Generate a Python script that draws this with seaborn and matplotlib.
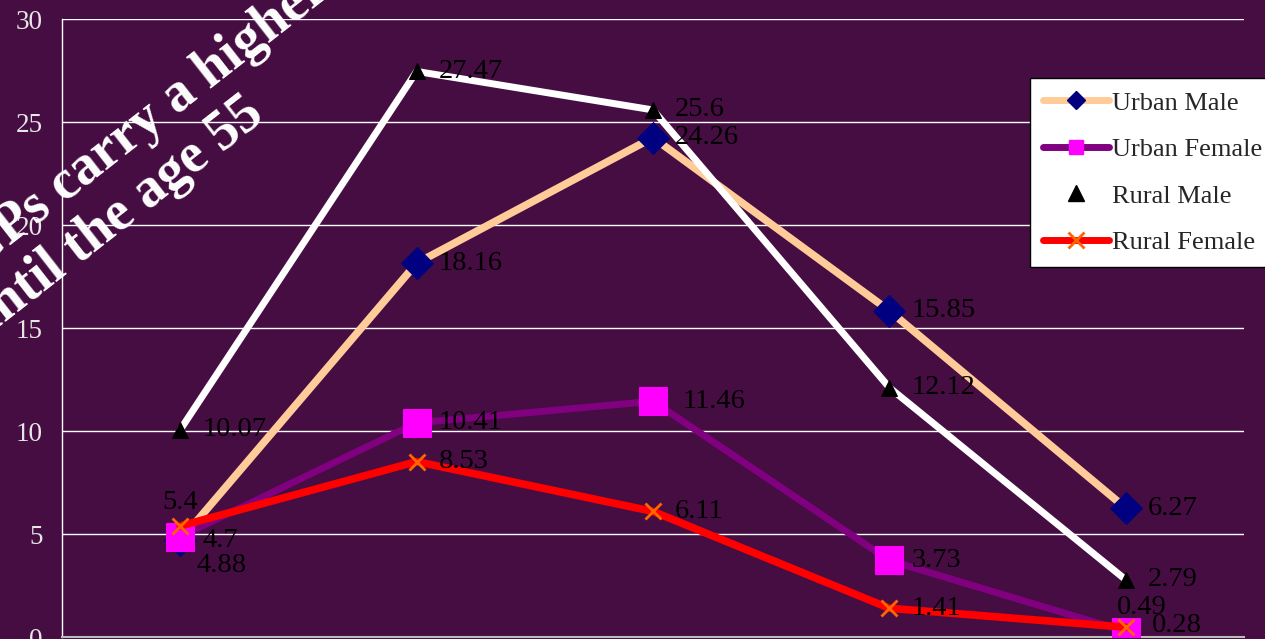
import matplotlib
matplotlib.use("Agg")
import matplotlib.pyplot as plt
from matplotlib.lines import Line2D
import seaborn as sns
import pandas as pd

# ---- data ----
positions = [0, 1, 2, 3, 4]
urban_male = [4.7, 18.16, 24.26, 15.85, 6.27]
urban_female = [4.88, 10.41, 11.46, 3.73, 0.28]
rural_male = [10.07, 27.47, 25.6, 12.12, 2.79]
rural_female = [5.4, 8.53, 6.11, 1.41, 0.49]
series_names = ["Urban Male", "Urban Female", "Rural Male", "Rural Female"]
y_ticks = [0, 5, 10, 15, 20, 25, 30]
title_line1 = "GPs carry a higher"
title_line2 = "until the age 55"

W, H = 1265, 639
BG = "#460d42"
SERIF = "Liberation Serif"

sns.set_style("white")
plt.rcParams["font.family"] = [SERIF, "DejaVu Serif"]

fig = plt.figure(figsize=(W / 100, H / 100), dpi=100, facecolor=BG)
ax = fig.add_axes([62 / W, (H - 637.3) / H, (1244 - 62) / W, (637.3 - 19.3) / H])
ax.set_facecolor(BG)

df = pd.DataFrame({
    "pos": positions * 4,
    "value": urban_male + urban_female + rural_male + rural_female,
    "series": sum([[n] * len(positions) for n in series_names], []),
})

styles = {
    "Urban Male": dict(color="#ffcc99", lw=5.5, marker="D", markersize=16,
                       markerfacecolor="#000080", markeredgecolor="#000080"),
    "Urban Female": dict(color="#800080", lw=5, marker="s", markersize=20,
                         markerfacecolor="#ff00ff", markeredgecolor="#ff00ff"),
    "Rural Male": dict(color="white", lw=5, marker="^", markersize=12,
                       markerfacecolor="black", markeredgecolor="black"),
    "Rural Female": dict(color="#ff0000", lw=5.5, marker="x", markersize=12,
                         markeredgecolor="#ff6600", markeredgewidth=2),
}

for i, name in enumerate(series_names):
    sub = df[df["series"] == name]
    sns.lineplot(data=sub, x="pos", y="value", ax=ax, sort=False,
                 zorder=3 + i, legend=False, **styles[name])

# data labels
default_off = (16, 0)
special = {
    ("Urban Female", 0): ((12, -21), "left"),
    ("Rural Female", 0): ((0, 17), "center"),
    ("Urban Female", 2): ((21.5, 0), "left"),
    ("Rural Female", 4): ((-6.5, 14.5), "left"),
    ("Urban Female", 4): ((19, 4), "left"),
}
for name in series_names:
    sub = df[df["series"] == name]
    for j, (x, v) in enumerate(zip(sub["pos"], sub["value"])):
        off, ha = special.get((name, j), (default_off, "left"))
        ax.annotate(f"{v:g}", (x, v), xytext=off, textcoords="offset points",
                    ha=ha, va="center", fontsize=20.5, color="black",
                    family=SERIF, zorder=10, annotation_clip=False)

ax.set_xlim(-0.5, 4.5)
ax.set_ylim(0, 30)
ax.set_yticks(y_ticks)
ax.set_yticklabels([str(t) for t in y_ticks])
ax.set_xticks([0.5, 1.5, 2.5, 3.5])
ax.set_xticklabels([])
ax.set_xlabel("")
ax.set_ylabel("")
ax.tick_params(axis="y", length=5, width=1, color="white", pad=9,
               labelsize=19.5, labelcolor="#e6e6e6")
ax.tick_params(axis="x", length=5, width=1, color="#bbbbbb", direction="inout")
for t in ax.get_yticklabels():
    t.set_family(SERIF)
ax.grid(axis="y", color="white", lw=1)
ax.grid(axis="x", visible=False)
for s in ["top", "right"]:
    ax.spines[s].set_visible(False)
ax.spines["left"].set_color("white")
ax.spines["left"].set_linewidth(1)
ax.spines["bottom"].set_color("#bbbbbb")
ax.spines["bottom"].set_linewidth(1.5)
ax.set_axisbelow(True)

# legend
handles = [
    Line2D([], [], color="#ffcc99", lw=5, marker="D", markersize=9,
           markerfacecolor="#000080", markeredgecolor="#000080"),
    Line2D([], [], color="#800080", lw=5, marker="s", markersize=10,
           markerfacecolor="#ff00ff", markeredgecolor="#ff00ff"),
    Line2D([], [], color="white", lw=5, marker="^", markersize=11,
           markerfacecolor="black", markeredgecolor="black"),
    Line2D([], [], color="#ff0000", lw=5, marker="x", markersize=11,
           markeredgecolor="#ff6600", markeredgewidth=2),
]
leg = ax.legend(handles, series_names, loc="upper left",
                bbox_to_anchor=(1030 / W, 1 - 78 / H), bbox_transform=fig.transFigure,
                borderaxespad=0, handlelength=2.5, handletextpad=0.1,
                labelspacing=0.87, borderpad=0.5, fancybox=False, framealpha=1,
                facecolor="white", edgecolor="black", prop={"family": SERIF, "size": 19})
leg.get_frame().set_linewidth(1)
leg.set_zorder(20)

# rotated title (partly off canvas)
ang = 38
fig.text(-24 / W, 1 - 273 / H, title_line1, rotation=ang, rotation_mode="anchor",
         ha="left", va="baseline", fontsize=40, fontweight="bold", color="white",
         family=SERIF, zorder=30)
fig.text(-19 / W, 1 - 342 / H, title_line2, rotation=ang, rotation_mode="anchor",
         ha="left", va="baseline", fontsize=40, fontweight="bold", color="white",
         family=SERIF, zorder=30)

fig.savefig("out.png", dpi=100, facecolor=BG)
